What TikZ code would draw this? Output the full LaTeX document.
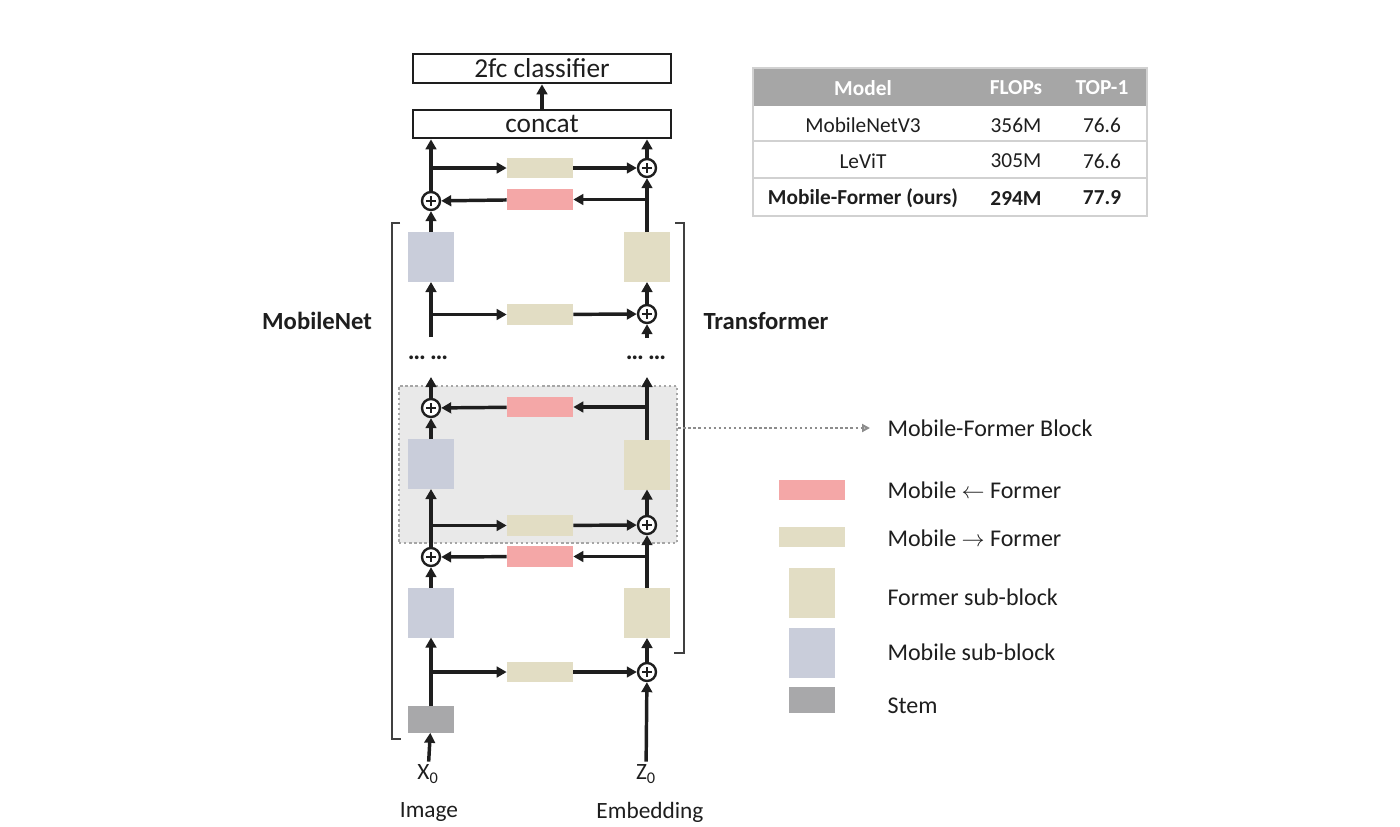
\documentclass[tikz,border=0pt]{standalone}
\usepackage{fontspec}
\setmainfont{Carlito}
\usetikzlibrary{arrows.meta}

\definecolor{pinkc}{RGB}{244,167,167}
\definecolor{tanc}{RGB}{226,221,196}
\definecolor{mobc}{RGB}{201,205,218}
\definecolor{stemc}{RGB}{168,168,170}
\definecolor{blockc}{RGB}{233,233,233}
\definecolor{headc}{RGB}{166,166,166}
\definecolor{txtc}{RGB}{30,30,30}

\tikzset{every picture/.style={line width=0.75pt}}
\tikzset{
  arr/.style={line width=2.6pt, color=txtc, -{Triangle[length=7.5pt,width=8pt]}},
  bar/.style={inner sep=0pt, outer sep=0pt, minimum width=50pt, minimum height=15.5pt},
  subblk/.style={inner sep=0pt, outer sep=0pt, minimum width=34.5pt, minimum height=37.5pt},
  stemblk/.style={inner sep=0pt, outer sep=0pt, minimum width=34.5pt, minimum height=20pt, fill=stemc},
  addop/.style={circle, draw=txtc, line width=1.8pt, fill=white, minimum size=13.5pt, inner sep=0pt,
    path picture={\draw[line width=1.3pt, txtc] ([xshift=3.2pt]path picture bounding box.west) -- ([xshift=-3.2pt]path picture bounding box.east)
      ([yshift=-3.2pt]path picture bounding box.north) -- ([yshift=3.2pt]path picture bounding box.south);}},
  wbox/.style={draw=txtc, line width=2pt, minimum width=193.5pt, inner sep=0pt, text=txtc, font=\fontsize{20.5}{24}\selectfont},
  brk/.style={line width=1.8pt, color=txtc!85},
  tline/.style={line width=1.2pt, color=black!18},
  tcell/.style={inner sep=0.75pt, text=txtc, font=\fontsize{16}{18}\selectfont},
  lgtext/.style={anchor=west, inner sep=0.75pt, text=txtc, font=\fontsize{18}{21}\selectfont},
  iotext/.style={inner sep=0.75pt, text=txtc, font=\fontsize{17.5}{20}\selectfont},
}

\begin{document}
\begin{tikzpicture}[x=0.75pt,y=0.75pt,yscale=-1,xscale=1]
\useasboundingbox (0,0) rectangle (1400,826);

%Shape: Mobile-Former block
\node [fill=blockc, draw=black!35, dotted, line width=1.8pt, minimum width=208.5pt, minimum height=117.75pt, inner sep=0pt] (mfb) at (538,464.5) {};

%Brackets
\draw [brk] (400,223) -- (392,223) -- (392,739) -- (401,739) ;
\draw [brk] (675,223) -- (684,223) -- (684,653) -- (674,653) ;

%Top boxes
\node [wbox, minimum height=21.75pt] (cls) at (542,68.5) {2fc classifier};
\node [wbox, minimum height=21pt] (cat) at (542,124) {concat};

%Bottom stage
\node [stemblk] (stem) at (431,719.5) {};
\node [bar, fill=tanc] (m2f1) at (540,672) {};
\node [addop] (addF1) at (647,672) {};
\node [subblk, fill=mobc] (mob1) at (431,612.5) {};
\node [subblk, fill=tanc] (frm1) at (647,613) {};
\node [bar, fill=pinkc] (f2m1) at (540,556.5) {};
\node [addop] (addM1) at (431,557) {};
%Middle stage
\node [bar, fill=tanc] (m2f2) at (540,525.5) {};
\node [addop] (addF2) at (647,525) {};
\node [subblk, fill=mobc] (mob2) at (431,464) {};
\node [subblk, fill=tanc] (frm2) at (647,464.5) {};
\node [bar, fill=pinkc] (f2m2) at (540,407) {};
\node [addop] (addM2) at (431,408) {};
\coordinate (outM2) at (431,377) ;
\coordinate (outF2) at (647,377) ;
%Top stage
\coordinate (inM3) at (431,337) ;
\coordinate (inF3) at (647,338) ;
\node [bar, fill=tanc] (m2f3) at (540,314.5) {};
\node [addop] (addF3) at (647,314) {};
\node [subblk, fill=mobc] (mob3) at (431,257) {};
\node [subblk, fill=tanc] (frm3) at (647,257) {};
\node [bar, fill=pinkc] (f2m3) at (540,199.5) {};
\node [addop] (addM3) at (431,201) {};
\node [bar, fill=tanc] (m2f4) at (540,168) {};
\node [addop] (addF4) at (647,168) {};

% Text Node
\node [iotext, font=\fontsize{19}{20}\selectfont] (dotsL) at (428,358) {\textbf{…\,…}};
\node [iotext, font=\fontsize{19}{20}\selectfont] (dotsR) at (646,358) {\textbf{…\,…}};
\node [iotext, inner sep=2pt] (xin) at (428,774) {X\textsubscript{0}};
\node [iotext, inner sep=2pt] (zin) at (646,774) {Z\textsubscript{0}};
\node [iotext] (img) at (429,812) {Image};
\node [iotext] (emb) at (650,812) {Embedding};
\node [iotext, font=\fontsize{18.5}{22}\selectfont\bfseries] (lblMob) at (317,321) {MobileNet};
\node [iotext, font=\fontsize{18.5}{22}\selectfont\bfseries] (lblTr) at (766,321) {Transformer};

%Arrows bottom stage
\draw [arr] (xin) -- (stem) ;
\draw [arr] (stem) -- (mob1) ;
\draw [arr] (stem |- m2f1) -- (m2f1) ;
\draw [arr] (m2f1) -- (addF1) ;
\draw [arr] (zin) -- (addF1) ;
\draw [arr] (addF1) -- (frm1) ;
\draw [arr] (mob1) -- (addM1) ;
\draw [arr] (frm1) -- (addF2) ;
\draw [arr] (frm1 |- f2m1) -- (f2m1) ;
\draw [arr] (f2m1) -- (addM1) ;
%Arrows middle stage
\draw [arr] (addM1) -- (mob2) ;
\draw [arr] (addM1 |- m2f2) -- (m2f2) ;
\draw [arr] (m2f2) -- (addF2) ;
\draw [arr] (addF2) -- (frm2) ;
\draw [arr] (mob2) -- (addM2) ;
\draw [arr] (frm2) -- (outF2) ;
\draw [arr] (frm2 |- f2m2) -- (f2m2) ;
\draw [arr] (f2m2) -- (addM2) ;
\draw [arr] (addM2) -- (outM2) ;
%Arrows top stage
\draw [arr] (inM3) -- (mob3) ;
\draw [arr] (inM3 |- m2f3) -- (m2f3) ;
\draw [arr] (m2f3) -- (addF3) ;
\draw [arr] (inF3) -- (addF3) ;
\draw [arr] (addF3) -- (frm3) ;
\draw [arr] (mob3) -- (addM3) ;
\draw [arr] (frm3) -- (addF4) ;
\draw [arr] (frm3 |- f2m3) -- (f2m3) ;
\draw [arr] (f2m3) -- (addM3) ;
\draw [arr] (addM3) -- (addM3 |- cat.south) ;
\draw [arr] (addM3 |- m2f4) -- (m2f4) ;
\draw [arr] (m2f4) -- (addF4) ;
\draw [arr] (addF4) -- (addF4 |- cat.south) ;
\draw [arr] (cat) -- (cls) ;

%Table
\fill [headc] (753,68) rectangle (1147,106) ;
\draw [tline] (753,68) rectangle (1147,216) ;
\draw [tline] (753,141) -- (1147,141) ;
\draw [tline] (753,178) -- (1147,178) ;
\node [tcell, text=white, font=\fontsize{16}{18}\selectfont\bfseries] (hModel) at (863,88) {Model};
\node [tcell, text=white, font=\fontsize{16}{18}\selectfont\bfseries] (hFlops) at (1016,88) {FLOPs};
\node [tcell, text=white, font=\fontsize{16}{18}\selectfont\bfseries] (hTop) at (1102,88) {TOP-1};
\node [tcell] (rModelA) at (863,125) {MobileNetV3};
\node [tcell] (rFlopsA) at (1016,125) {356M};
\node [tcell] (rTopA) at (1102,125) {76.6};
\node [tcell] (rModelB) at (863,161) {LeViT};
\node [tcell] (rFlopsB) at (1016,161) {305M};
\node [tcell] (rTopB) at (1102,161) {76.6};
\node [tcell, font=\fontsize{16}{18}\selectfont\bfseries] (rModelC) at (863,198) {Mobile-Former (ours)};
\node [tcell, font=\fontsize{16}{18}\selectfont\bfseries] (rFlopsC) at (1016,198) {294M};
\node [tcell, font=\fontsize{16}{18}\selectfont\bfseries] (rTopC) at (1102,198) {77.9};

%Legend
\node [lgtext] (lblBlock) at (886,428) {Mobile-Former Block};
\draw [dotted, line width=1.8pt, color=black!45, -{Triangle[open,length=6pt,width=6pt]}, shorten >=12pt] (mfb.east |- lblBlock) -- (lblBlock.west) ;
\node [bar, fill=pinkc] (lgPk) at (812,490) {};
\node [lgtext] (lgPkT) at (886,490) {Mobile $\leftarrow$ Former};
\node [bar, fill=tanc] (lgTn) at (812,537) {};
\node [lgtext] (lgTnT) at (886,538) {Mobile $\rightarrow$ Former};
\node [subblk, fill=tanc] (lgFm) at (812,593) {};
\node [lgtext] (lgFmT) at (886,597) {Former sub-block};
\node [subblk, fill=mobc] (lgMb) at (812,652.5) {};
\node [lgtext] (lgMbT) at (886,652) {Mobile sub-block};
\node [stemblk] (lgSt) at (812,700) {};
\node [lgtext] (lgStT) at (886,706) {Stem};

\end{tikzpicture}
\end{document}
